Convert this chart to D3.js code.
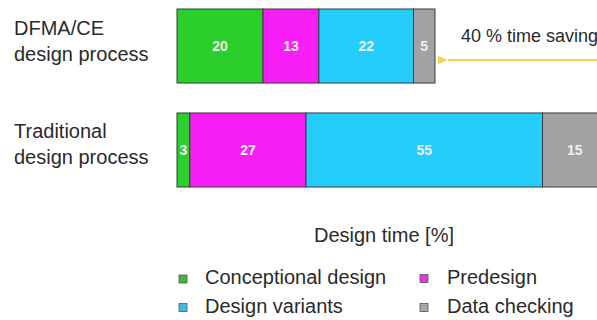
<!DOCTYPE html>
<html>
<head>
<meta charset="utf-8">
<script src="https://cdn.jsdelivr.net/npm/d3@7"></script>
<style>
  html, body { margin: 0; padding: 0; background: #fff; }
  svg { display: block; font-family: "Liberation Sans", Arial, sans-serif; }
</style>
</head>
<body>
<svg id="chart" width="597" height="320"></svg>
<script>
// Design processes (rows) and their label lines
const processes = ["DFMA/CE", "Traditional"];
const processLabels = [["DFMA/CE", "design process"], ["Traditional", "design process"]];

// Design phases (stack order) and colours
const phases = ["Conceptional design", "Predesign", "Design variants", "Data checking"];
const phaseColors = ["#2bcf2b", "#f81ef8", "#25cdfb", "#a2a2a2"];
const legendColors = ["#3cb83c", "#e03ae0", "#3cbde0", "#a8a8a8"];

// Design time share [%] per phase, per process
const dfmaValues = [20, 13, 22, 5];
const traditionalValues = [3, 27, 55, 15];

const savingLabel = "40 % time saving";
const axisTitle = "Design time [%]";

const svg = d3.select("#chart");

const x = d3.scaleLinear().domain([0, 100]).range([177, 607]);
const y = d3.scaleBand().domain(processes).range([9, 187]).paddingInner(0.288).paddingOuter(0);

const rows = [
  { process: processes[0], values: dfmaValues, label: processLabels[0] },
  { process: processes[1], values: traditionalValues, label: processLabels[1] }
];

rows.forEach(row => {
  let acc = 0;
  row.segments = row.values.map((v, i) => {
    const s = { process: row.process, phase: phases[i], i, x0: acc, x1: acc + v, value: v };
    acc += v;
    return s;
  });
});

// Stacked bars
const barG = svg.append("g");
rows.forEach(row => {
  const g = barG.append("g");
  g.selectAll("rect")
    .data(row.segments)
    .join("rect")
    .attr("x", d => x(d.x0))
    .attr("y", y(row.process))
    .attr("width", d => x(d.x1) - x(d.x0))
    .attr("height", y.bandwidth())
    .attr("fill", d => phaseColors[d.i])
    .attr("stroke", "#3a3a3a")
    .attr("stroke-width", 1);

  g.selectAll("text")
    .data(row.segments)
    .join("text")
    .attr("x", d => (x(d.x0) + x(d.x1)) / 2)
    .attr("y", y(row.process) + y.bandwidth() / 2)
    .attr("dy", "0.36em")
    .attr("text-anchor", "middle")
    .attr("font-size", 14)
    .attr("font-weight", "bold")
    .attr("fill", "#eeeeee")
    .text(d => d.value);

  // Row label (two lines)
  const cy = y(row.process) + y.bandwidth() / 2;
  svg.append("text")
    .attr("x", 14)
    .attr("y", cy - 11.5)
    .attr("font-size", 20)
    .attr("fill", "#2a2a2a")
    .text(row.label[0]);
  svg.append("text")
    .attr("x", 14)
    .attr("y", cy + 14.5)
    .attr("font-size", 20)
    .attr("fill", "#2a2a2a")
    .text(row.label[1]);
});

// Time saving annotation: arrow from the traditional total back to the DFMA/CE total
const arrowColor = "#f2d24e";
svg.append("defs").append("marker")
  .attr("id", "head")
  .attr("viewBox", "0 0 10 8")
  .attr("refX", 0)
  .attr("refY", 4)
  .attr("markerWidth", 10)
  .attr("markerHeight", 8)
  .attr("markerUnits", "userSpaceOnUse")
  .attr("orient", "auto-start-reverse")
  .append("path")
  .attr("d", "M0,4 L10,0 L10,8 Z")
  .attr("fill", arrowColor);

const topCenter = y(processes[0]) + y.bandwidth() / 2;
const dfmaTotal = d3.sum(dfmaValues);
const tradTotal = d3.sum(traditionalValues);
svg.append("line")
  .attr("x1", x(dfmaTotal) + 13)
  .attr("x2", x(tradTotal))
  .attr("y1", topCenter + 14)
  .attr("y2", topCenter + 14)
  .attr("stroke", arrowColor)
  .attr("stroke-width", 2)
  .attr("marker-start", "url(#head)");

svg.append("text")
  .attr("x", 461)
  .attr("y", 42)
  .attr("font-size", 18)
  .attr("fill", "#2a2a2a")
  .text(savingLabel);

// Axis title
svg.append("text")
  .attr("x", 384)
  .attr("y", 241.5)
  .attr("text-anchor", "middle")
  .attr("font-size", 20)
  .attr("fill", "#2a2a2a")
  .text(axisTitle);

// Legend (two columns, two rows)
const legendPos = [
  { sx: 179, tx: 205, by: 284 },
  { sx: 420, tx: 447, by: 283.5 },
  { sx: 179, tx: 205, by: 312.5 },
  { sx: 420, tx: 447, by: 312.5 }
];
const legend = svg.append("g")
  .selectAll("g")
  .data(phases)
  .join("g");
legend.append("rect")
  .attr("x", (d, i) => legendPos[i].sx)
  .attr("y", (d, i) => legendPos[i].by - 9)
  .attr("width", 8)
  .attr("height", 8)
  .attr("fill", (d, i) => legendColors[i])
  .attr("stroke", "#555")
  .attr("stroke-width", 0.8);
legend.append("text")
  .attr("x", (d, i) => legendPos[i].tx)
  .attr("y", (d, i) => legendPos[i].by)
  .attr("font-size", 20)
  .attr("fill", "#2a2a2a")
  .text(d => d);
</script>
</body>
</html>
